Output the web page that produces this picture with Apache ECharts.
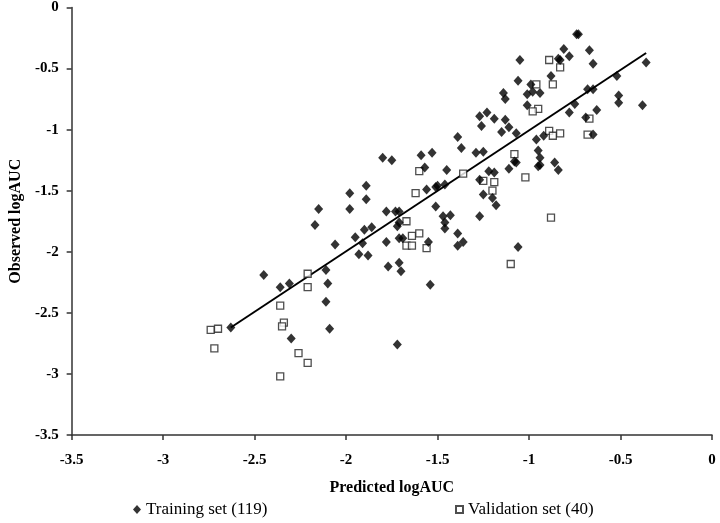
<!DOCTYPE html>
<html><head><meta charset="utf-8">
<script src="https://cdn.jsdelivr.net/npm/echarts@6/dist/echarts.min.js"></script>
<style>html,body{margin:0;padding:0;background:#fff}#c{width:720px;height:523px}</style>
</head><body><div id="c"></div>
<script>
const trainX = [-2.45,-2.36,-2.31,-2.63,-2.30,-2.11,-2.10,-2.11,-2.09,-2.15,-2.17,-2.06,-1.98,-1.95,-1.93,-1.88,-1.91,-1.90,-1.89,-1.98,-1.89,
 -1.05,-1.06,-0.99,-1.01,-0.98,-0.94,-1.01,-1.14,-1.13,-1.27,-1.23,-1.26,-1.19,-1.13,-1.11,-1.15,-1.07,-0.92,-0.96,-0.95,-0.94,-0.95,
 -1.39,-1.37,-1.29,-1.25,-1.80,-1.75,-1.59,-1.53,-1.57,-1.45,-1.56,-1.51,-1.50,-1.46,-1.27,-1.22,-1.19,-1.11,-1.08,-1.25,-1.20,
 -0.74,-0.73,-0.81,-0.78,-0.67,-0.65,-0.84,-0.83,-0.88,-0.52,-0.36,-0.68,-0.65,-0.75,-0.78,-0.63,-0.51,-0.51,-0.38,-0.69,-0.65,-0.86,-0.84,
 -1.78,-1.73,-1.71,-1.86,-1.71,-1.72,-1.78,-1.71,-1.69,-1.77,-1.71,-1.70,-1.54,-1.72,-1.51,-1.47,-1.43,-1.46,-1.46,-1.55,-1.39,-1.39,-1.36,-1.27,-1.18,-1.06,-0.94,-1.07];
const trainY = [-2.19,-2.29,-2.26,-2.62,-2.71,-2.15,-2.26,-2.41,-2.63,-1.65,-1.78,-1.94,-1.65,-1.88,-2.02,-2.03,-1.93,-1.82,-1.57,-1.52,-1.46,
 -0.43,-0.60,-0.63,-0.71,-0.69,-0.70,-0.80,-0.70,-0.75,-0.89,-0.86,-0.97,-0.91,-0.92,-0.98,-1.02,-1.03,-1.05,-1.08,-1.17,-1.23,-1.30,
 -1.06,-1.15,-1.19,-1.18,-1.23,-1.25,-1.21,-1.19,-1.31,-1.33,-1.49,-1.47,-1.46,-1.45,-1.41,-1.34,-1.35,-1.32,-1.26,-1.53,-1.56,
 -0.22,-0.22,-0.34,-0.40,-0.35,-0.46,-0.42,-0.43,-0.56,-0.56,-0.45,-0.67,-0.67,-0.79,-0.86,-0.84,-0.72,-0.78,-0.80,-0.90,-1.04,-1.27,-1.33,
 -1.67,-1.67,-1.67,-1.80,-1.76,-1.79,-1.92,-1.89,-1.89,-2.12,-2.09,-2.16,-2.27,-2.76,-1.63,-1.71,-1.70,-1.76,-1.81,-1.92,-1.85,-1.95,-1.92,-1.71,-1.62,-1.96,-1.29,-1.27];
const validX = [-2.74,-2.70,-2.72,-2.21,-2.21,-2.36,-2.34,-2.35,-2.26,-2.21,-2.36,
 -0.96,-0.95,-0.98,-1.08,-1.60,-1.36,-1.25,-1.19,-1.02,-1.62,-1.20,
 -0.89,-0.83,-0.87,-0.67,-0.89,-0.87,-0.83,-0.68,
 -1.67,-1.64,-1.60,-1.67,-1.64,-1.56,-1.10,-0.88];
const validY = [-2.64,-2.63,-2.79,-2.18,-2.29,-2.44,-2.58,-2.61,-2.83,-2.91,-3.02,
 -0.63,-0.83,-0.85,-1.20,-1.34,-1.36,-1.42,-1.43,-1.39,-1.52,-1.50,
 -0.43,-0.49,-0.63,-0.91,-1.01,-1.05,-1.03,-1.04,
 -1.75,-1.87,-1.85,-1.95,-1.95,-1.97,-2.10,-1.72];
const fitX = [-2.63, -0.36];
const fitSlope = 0.99, fitIntercept = -0.016;
const axisTicks = {min: -3.5, max: 0, interval: 0.5};
const names = {train: 'Training set (119)', valid: 'Validation set (40)', x: 'Predicted logAUC', y: 'Observed logAUC'};

const zip = (a, b) => a.map((v, i) => [v, b[i]]);
const serif = 'Liberation Serif, Times New Roman, serif';
const axisCommon = {
  type: 'value', min: axisTicks.min, max: axisTicks.max, interval: axisTicks.interval,
  splitLine: {show: false},
  axisLine: {show: true, onZero: false, lineStyle: {color: '#333', width: 1.5}},
  axisTick: {show: true, inside: false, length: 5, lineStyle: {color: '#333', width: 1.5}},
  axisLabel: {color: '#000', fontFamily: serif, fontWeight: 'bold', fontSize: 15},
  nameLocation: 'middle',
  nameTextStyle: {color: '#000', fontFamily: serif, fontWeight: 'bold', fontSize: 16}
};
const chart = echarts.init(document.getElementById('c'), null, {renderer: 'canvas'});
chart.setOption({
  animation: false,
  backgroundColor: '#fff',
  grid: {left: 65, right: 8, top: 7, bottom: 88, containLabel: false},
  xAxis: Object.assign({}, axisCommon, {name: names.x, nameGap: 45,
    axisLabel: Object.assign({}, axisCommon.axisLabel, {margin: 18})}),
  yAxis: Object.assign({}, axisCommon, {name: names.y, nameGap: 46, nameRotate: 90,
    axisLabel: Object.assign({}, axisCommon.axisLabel, {margin: 13})}),
  legend: [
    {data: [{name: names.train, icon: 'diamond'}], left: 128, bottom: 0, itemWidth: 8, itemHeight: 9, itemGap: 4,
     textStyle: {fontFamily: serif, fontSize: 17, color: '#000'}},
    {data: [{name: names.valid, icon: 'rect'}], left: 450, bottom: 0, itemWidth: 7, itemHeight: 7,
     textStyle: {fontFamily: serif, fontSize: 17, color: '#000'}}
  ],
  series: [
    {name: 'fit', type: 'line', data: fitX.map(x => [x, fitSlope * x + fitIntercept]),
     symbol: 'none', lineStyle: {color: '#000', width: 2}, z: 1, silent: true},
    {name: names.train, type: 'scatter', data: zip(trainX, trainY), symbol: 'diamond', symbolSize: [9, 10],
     itemStyle: {color: '#000'}, z: 3},
    {name: names.valid, type: 'scatter', data: zip(validX, validY), symbol: 'rect', symbolSize: 7,
     itemStyle: {color: '#fff', borderColor: '#222', borderWidth: 1.3}, z: 2}
  ]
});
</script></body></html>
